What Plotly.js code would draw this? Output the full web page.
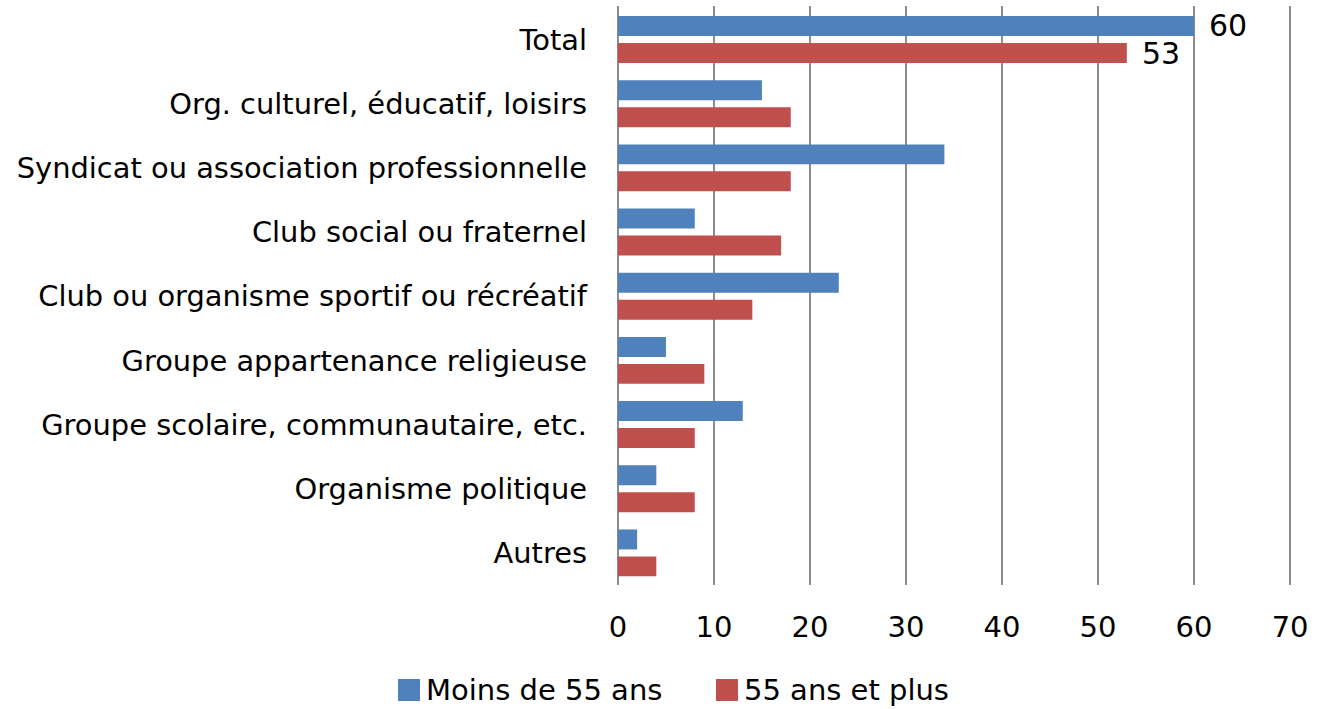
<!DOCTYPE html>
<html><head><meta charset="utf-8">
<script src="https://cdn.plot.ly/plotly-3.0.1.min.js"></script>
<style>html,body{margin:0;padding:0;background:#fff;}#chart{width:1330px;height:709px;}</style>
</head><body><div id="chart"></div>
<script>
const categories = ["Total","Org. culturel, éducatif, loisirs","Syndicat ou association professionnelle","Club social ou fraternel","Club ou organisme sportif ou récréatif","Groupe appartenance religieuse","Groupe scolaire, communautaire, etc.","Organisme politique","Autres"];
const moins55 = [60,15,34,8,23,5,13,4,2];
const plus55 = [53,18,18,17,14,9,8,8,4];
const seriesNames = ["Moins de 55 ans","55 ans et plus"];
const colors = ["#4F81BD","#C0504D"];
const labelledCategory = "Total";
const FONT = "'DejaVu Sans', sans-serif";

const W = 1330, H = 709, M = {l:616, r:38, t:6, b:124};
const PW = W - M.l - M.r, PH = H - M.t - M.b;
const px2x = p => (p - M.l) / PW;
const px2y = p => (H - M.b - p) / PH;

const traces = [moins55, plus55].map((vals,i)=>({
  type:'bar', orientation:'h', y:categories, x:vals, name:seriesNames[i],
  marker:{color:colors[i]}, hoverinfo:'x+y', showlegend:false
}));

const idx = categories.indexOf(labelledCategory);
const annotations = [moins55, plus55].map((vals,i)=>({
  x: vals[idx], y: labelledCategory, xref:'x', yref:'y',
  text: String(vals[idx]), showarrow:false, xanchor:'left',
  xshift: 13, yshift: i===0 ? 14 : -14,
  font:{family:FONT, size:30, color:'#000'}
}));

// manual legend (larger square keys as in the reference)
const legendKeys = [398, 716];
const shapes = [];
seriesNames.forEach((n,i)=>{
  shapes.push({type:'rect', xref:'paper', yref:'paper',
    x0:px2x(legendKeys[i]), x1:px2x(legendKeys[i]+22), y0:px2y(701), y1:px2y(679),
    line:{width:0}, fillcolor:colors[i]});
  annotations.push({xref:'paper', yref:'paper', x:px2x(legendKeys[i]+26), y:px2y(690),
    xanchor:'left', yanchor:'middle', text:n, showarrow:false,
    font:{family:FONT, size:29, color:'#000'}});
});

const layout = {
  width:W, height:H, margin:M,
  barmode:'group', bargap:0.16, bargroupgap:0.26,
  paper_bgcolor:'#fff', plot_bgcolor:'#fff',
  font:{family:FONT, size:28, color:'#000'},
  xaxis:{range:[-0.2,70.2], dtick:10, tick0:0, showgrid:true, gridcolor:'#8c8c8c', gridwidth:1.3,
         zeroline:false, showline:false, ticks:'', ticklabelstandoff:22,
         tickfont:{family:FONT, size:29, color:'#000'}, fixedrange:true},
  yaxis:{autorange:'reversed', showgrid:false, zeroline:false, showline:false, ticks:'',
         ticklabelstandoff:28, tickfont:{family:FONT, size:28.9, color:'#000'}, automargin:false},
  showlegend:false,
  shapes: shapes,
  annotations: annotations
};
Plotly.newPlot('chart', traces, layout, {displayModeBar:false, staticPlot:true});
</script></body></html>
